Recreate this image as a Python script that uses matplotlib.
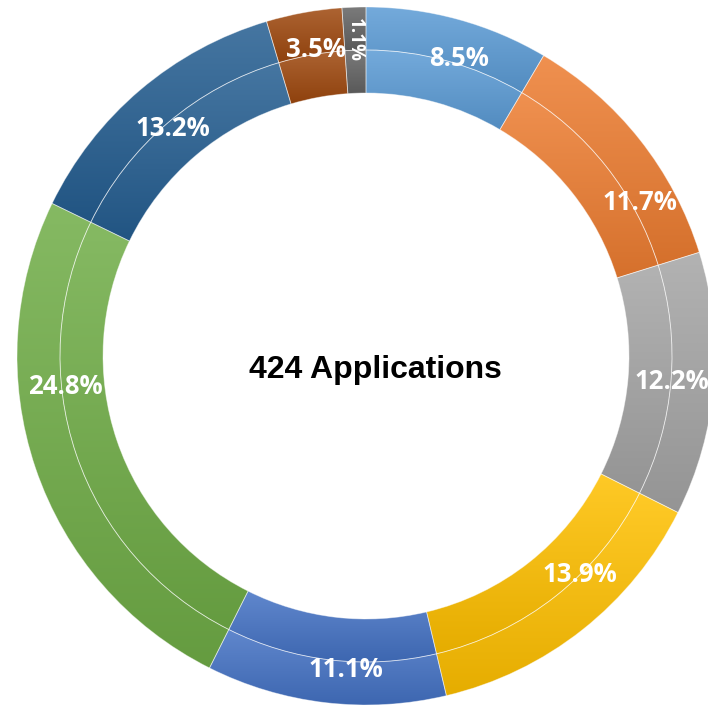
import numpy as np
import matplotlib.pyplot as plt
from matplotlib.patches import Wedge
from matplotlib.colors import to_rgb

# data, clockwise from 12 o'clock
shares = [8.5, 11.7, 12.2, 13.9, 11.1, 24.8, 13.2, 3.5, 1.1]
labels = ['8.5%', '11.7%', '12.2%', '13.9%', '11.1%', '24.8%', '13.2%', '3.5%', '1.1%']
total_apps = 424

# styles / layout
colors = ['#5B9BD5', '#ED7D31', '#A5A5A5', '#FFC000', '#4472C4',
          '#70AD47', '#255E91', '#9E480E', '#636363']
label_nudge = [2, 9, 0, -6, -3, 13, 0, 1, 0]   # degrees, clockwise
label_rad = [312, 314, 307, 306, 314, 302, 298, 311, 316]
label_rot = [0, 0, 0, 0, 0, 0, 0, 0, 270]
label_size = [18.5, 18.5, 18.5, 18.5, 18.5, 18.5, 18.5, 18.5, 13.5]

r_out, r_mid, r_in = 349, 306, 263
cx, cy = 366, 356          # centre in pixels from top-left
W = H = 708


def gradient_wedge(ax, r, width, t1, t2, base):
    base = np.array(to_rgb(base))
    top = base + (1 - base) * 0.15
    bottom = base * 0.9
    w = Wedge((0, 0), r, t1, t2, width=width, facecolor='none',
              edgecolor=(1, 1, 1, 0.45), linewidth=0.6, zorder=3)
    ax.add_patch(w)
    ext = w.get_path().get_extents()
    t = np.linspace(0, 1, 256)[:, None, None]
    img = top * (1 - t) + bottom * t
    im = ax.imshow(img, extent=[ext.x0, ext.x1, ext.y0, ext.y1],
                   origin='upper', aspect='auto', zorder=2, interpolation='bilinear')
    im.set_clip_path(w)


fig = plt.figure(figsize=(W / 100, H / 100), dpi=100)
ax = fig.add_axes([0, 0, 1, 1])
ax.set_xlim(-cx, W - cx)
ax.set_ylim(-(H - cy), cy)
ax.set_aspect('equal')
ax.axis('off')

cum = np.concatenate([[0], np.cumsum(shares)])
for i, s in enumerate(shares):
    t1 = 90 - cum[i + 1] * 3.6
    t2 = 90 - cum[i] * 3.6
    gradient_wedge(ax, r_out, r_out - r_mid, t1, t2, colors[i])
    gradient_wedge(ax, r_mid, r_mid - r_in, t1, t2, colors[i])

    ang = np.deg2rad((cum[i] + s / 2) * 3.6 + label_nudge[i])
    r_lab = label_rad[i]
    ax.text(r_lab * np.sin(ang), r_lab * np.cos(ang), labels[i],
            ha='center', va='center', color='white', fontsize=label_size[i],
            fontweight='bold', family=['Open Sans', 'DejaVu Sans'],
            rotation=label_rot[i], zorder=5)

ax.text(9, -14, '{} Applications'.format(total_apps), ha='center', va='center',
        fontsize=23, fontweight='bold', family=['Liberation Sans', 'DejaVu Sans'],
        color='black', zorder=5)

fig.savefig('out.png', dpi=100)
